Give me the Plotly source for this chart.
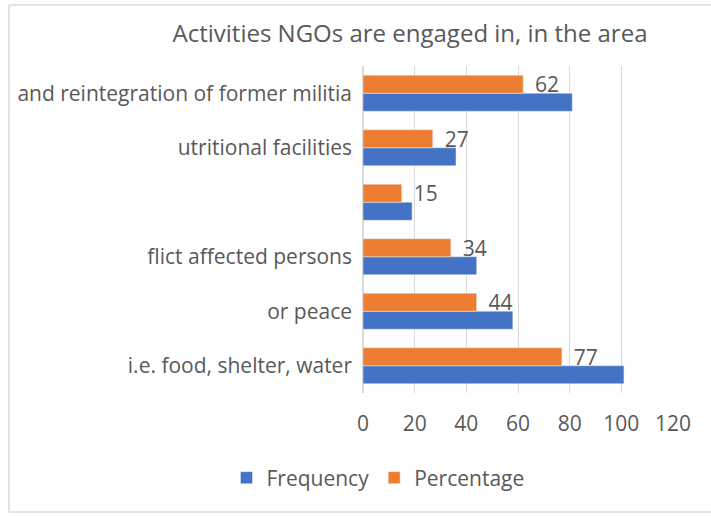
import plotly.graph_objects as go

categories = [
    "i.e. food, shelter, water",
    "or peace",
    "flict affected persons",
    "",
    "utritional facilities",
    "and reintegration of former militia",
]
frequency = [101, 58, 44, 19, 36, 81]
percentage = [77, 44, 34, 15, 27, 62]
x_ticks = [0, 20, 40, 60, 80, 100, 120]

pos = list(range(len(categories)))

fig = go.Figure()
fig.add_trace(go.Bar(
    y=pos, x=frequency, orientation="h", name="Frequency",
    marker=dict(color="#4472C4"),
))
fig.add_trace(go.Bar(
    y=pos, x=percentage, orientation="h", name="Percentage",
    marker=dict(color="#ED7D31"),
    text=[str(v) for v in percentage], texttemplate="\u2009 %{text}",
    textposition="outside", constraintext="none",
    textfont=dict(size=21, color="#595959"), cliponaxis=False,
))

font = "Open Sans"
fig.update_layout(
    width=711, height=516,
    margin=dict(l=363, r=38, t=66, b=123, autoexpand=False),
    paper_bgcolor="white", plot_bgcolor="white",
    barmode="group", bargap=0.34, bargroupgap=0,
    font=dict(family=font, color="#595959", size=21),
    title=dict(text="Activities NGOs are engaged in, in the area",
               x=(410 - 363) / 310, xref="paper", xanchor="center",
               y=1 - 34 / 516, yref="container", yanchor="middle",
               font=dict(size=24, color="#595959", family=font)),
    xaxis=dict(range=[0, 120], tickvals=x_ticks, showgrid=True,
               gridcolor="#d9d9d9", gridwidth=1, zeroline=True,
               zerolinecolor="#d9d9d9", showline=False, automargin=False,
               tickfont=dict(size=21, color="#595959"),
               ticklabelstandoff=16),
    yaxis=dict(tickvals=pos, ticktext=categories, range=[-0.5, 5.5],
               showgrid=False, zeroline=False, showline=False,
               automargin=False,
               tickfont=dict(size=21, color="#595959"),
               ticklabelstandoff=10),
    legend=dict(orientation="h", x=(378 - 363) / 310, xanchor="center",
                y=-85 / 327, yanchor="middle",
                font=dict(size=21, color="#595959"), traceorder="normal"),
    showlegend=True,
)

# chart area border (light gray)
lc = "#e3e3e3"
x_left = (9 - 363) / 310
x_right = (712 - 363) / 310
y_top = (393 - 5) / 327
y_bot = (393 - 512) / 327
fig.add_shape(type="line", xref="paper", yref="paper", x0=x_left, x1=x_right,
              y0=y_top, y1=y_top, line=dict(color=lc, width=2))
fig.add_shape(type="line", xref="paper", yref="paper", x0=x_left, x1=x_left,
              y0=y_top, y1=y_bot, line=dict(color=lc, width=2))
fig.add_shape(type="line", xref="paper", yref="paper", x0=x_left, x1=x_right,
              y0=y_bot, y1=y_bot, line=dict(color=lc, width=2))

fig.write_html("out.html", config={"displayModeBar": False},
               post_script="document.body.style.margin='0';")
